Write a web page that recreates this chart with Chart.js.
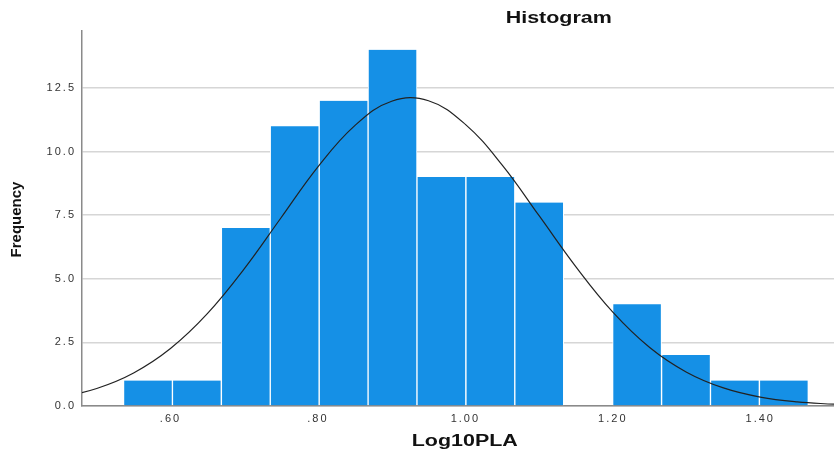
<!DOCTYPE html>
<html>
<head>
<meta charset="utf-8">
<script src="https://cdn.jsdelivr.net/npm/chart.js@4/dist/chart.umd.min.js"></script>
<style>
  html, body { margin: 0; padding: 0; background: #ffffff; }
  #wrap { width: 834px; height: 454px; position: relative; }
</style>
</head>
<body>
<div id="wrap"><canvas id="c" width="834" height="454"></canvas></div>
<script>
// ---- data ----
const binCenters = [0.5695, 0.6358, 0.7022, 0.7685, 0.8349, 0.9012, 0.9675, 1.0339, 1.1002, 1.1666, 1.2329, 1.2993, 1.3656, 1.4320];
const counts     = [1, 1, 7, 11, 12, 14, 9, 9, 8, 0, 4, 2, 1, 1];
const curveX = [0.45, 0.50, 0.55, 0.60, 0.65, 0.70, 0.75, 0.80, 0.85, 0.90, 0.95, 1.00, 1.05, 1.10, 1.15, 1.20, 1.25, 1.30, 1.35, 1.40, 1.45, 1.50];
const curveY = [0.34, 0.69, 1.30, 2.26, 3.63, 5.39, 7.40, 9.40, 11.02, 11.98, 12.00, 11.07, 9.47, 7.48, 5.47, 3.69, 2.30, 1.33, 0.71, 0.35, 0.16, 0.07];
const xTickValues = [0.6, 0.8, 1.0, 1.2, 1.4];
const yTickValues = [0, 2.5, 5, 7.5, 10, 12.5];
const chartTitle = 'Histogram';
const xTitle = 'Log10PLA';
const yTitle = 'Frequency';

const barData = binCenters.map((x, i) => ({ x: x, y: counts[i] }));
const curveData = curveX.map((x, i) => ({ x: x, y: curveY[i] }));

const textPlugin = {
  id: 'textPlugin',
  beforeLayout(chart) { chart.ctx.letterSpacing = '2px'; },
  beforeDraw(chart) { chart.ctx.letterSpacing = '2px'; },
  afterDraw(chart) {
    const ctx = chart.ctx;
    const a = chart.chartArea;
    ctx.save();
    ctx.letterSpacing = '0px';
    ctx.fillStyle = '#111111';
    ctx.textAlign = 'center';
    ctx.textBaseline = 'middle';
    // chart title
    ctx.save();
    ctx.translate(a.left + (a.right - a.left) * 0.634, 19);
    ctx.scale(1.34, 1);
    ctx.font = 'bold 16px "Liberation Sans", Arial, sans-serif';
    ctx.fillText(chartTitle, 0, 0);
    ctx.restore();
    // x title
    ctx.save();
    ctx.translate(a.left + (a.right - a.left) * 0.509, 442);
    ctx.scale(1.34, 1);
    ctx.font = 'bold 16px "Liberation Sans", Arial, sans-serif';
    ctx.fillText(xTitle, 0, 0);
    ctx.restore();
    // y title
    ctx.save();
    ctx.translate(17, (a.top + a.bottom) / 2 + 1);
    ctx.rotate(-Math.PI / 2);
    ctx.font = 'bold 15px "Liberation Sans", Arial, sans-serif';
    ctx.fillText(yTitle, 0, 0);
    ctx.restore();
    ctx.restore();
  }
};

new Chart(document.getElementById('c'), {
  type: 'bar',
  data: {
    datasets: [
      {
        type: 'line',
        data: curveData,
        borderColor: '#222222',
        borderWidth: 1.2,
        pointRadius: 0,
        fill: false,
        tension: 0.4,
        order: 0
      },
      {
        type: 'bar',
        data: barData,
        backgroundColor: '#1590E6',
        borderColor: '#ffffff',
        borderWidth: { left: 1, right: 1, top: 0, bottom: 0 },
        borderSkipped: false,
        barPercentage: 1,
        categoryPercentage: 1,
        order: 1
      }
    ]
  },
  options: {
    responsive: false,
    animation: false,
    devicePixelRatio: 1,
    layout: { padding: { left: 0, right: 0, top: 31, bottom: 0 } },
    plugins: { legend: { display: false }, tooltip: { enabled: false }, title: { display: false } },
    scales: {
      x: {
        type: 'linear',
        offset: false,
        min: 0.48,
        max: 1.50,
        afterBuildTicks: (s) => { s.ticks = xTickValues.map(v => ({ value: v })); },
        afterFit: (s) => { s.height = 48; },
        grid: { display: false, drawTicks: false, offset: false },
        border: { display: true, color: '#8a8a8a', width: 1.5 },
        ticks: {
          padding: 6,
          color: '#333333',
          font: { family: '"Liberation Sans", Arial, sans-serif', size: 11 },
          maxRotation: 0,
          callback: (v) => (v < 1 ? '.' + v.toFixed(2).split('.')[1] : v.toFixed(2))
        }
      },
      y: {
        type: 'linear',
        min: 0,
        max: 14.74,
        afterBuildTicks: (s) => { s.ticks = yTickValues.map(v => ({ value: v })); },
        afterFit: (s) => { s.width = 82; },
        grid: { color: '#d6d6d6', lineWidth: 1.5, drawTicks: false },
        border: { display: true, color: '#8a8a8a', width: 1.5 },
        ticks: {
          padding: 6,
          color: '#333333',
          font: { family: '"Liberation Sans", Arial, sans-serif', size: 11 },
          callback: (v) => v.toFixed(1)
        }
      }
    }
  },
  plugins: [textPlugin]
});
</script>
</body>
</html>
